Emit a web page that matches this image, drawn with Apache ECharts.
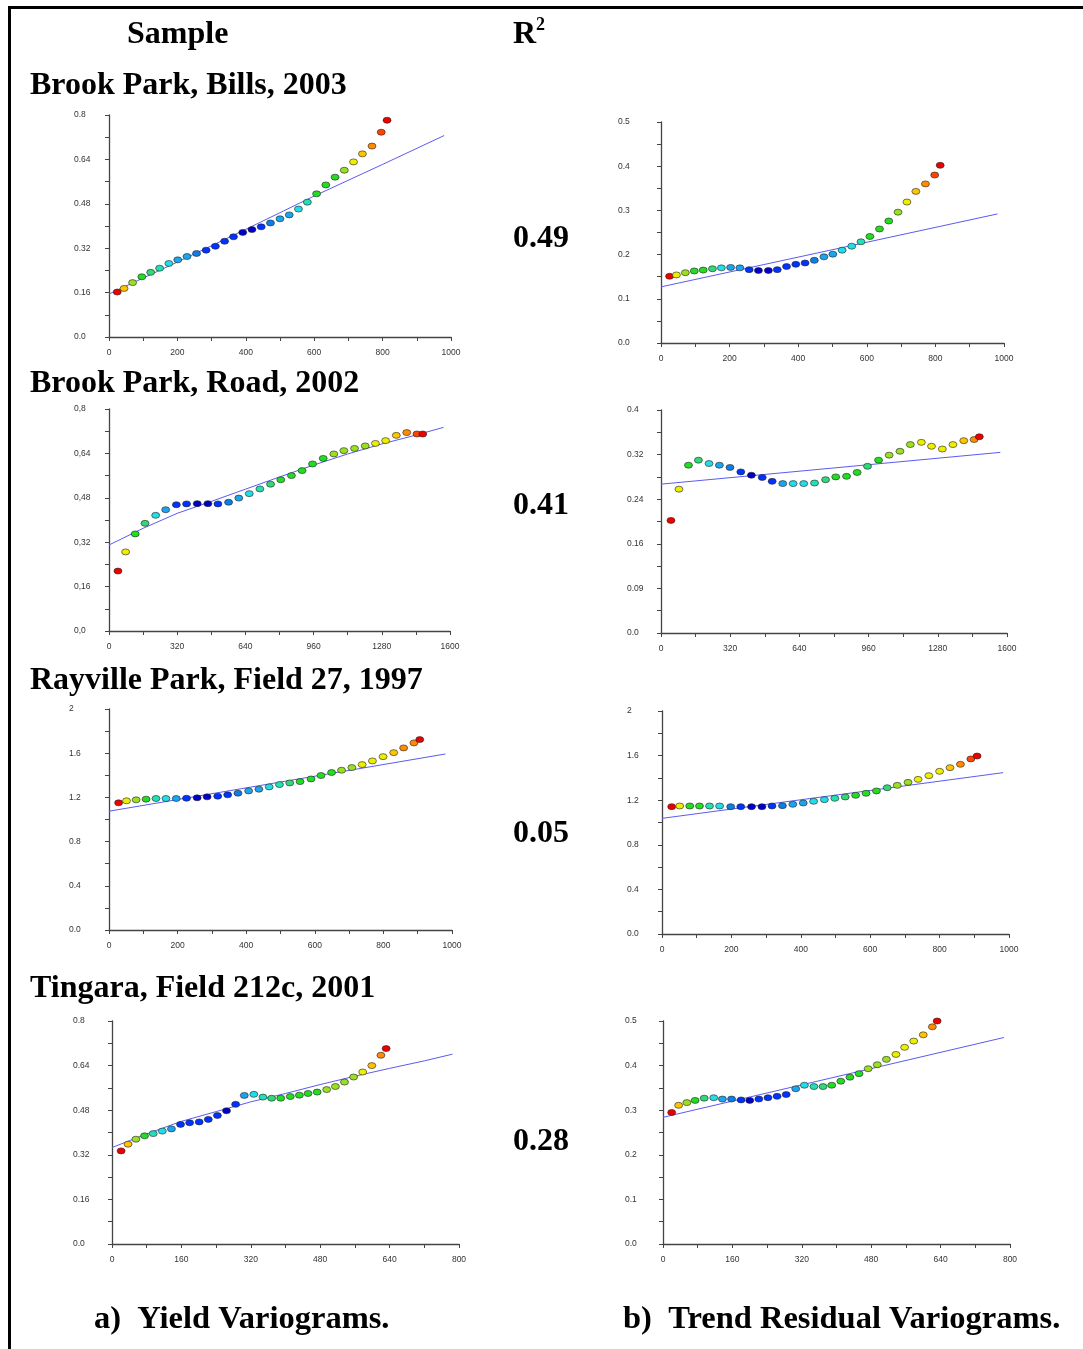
<!DOCTYPE html>
<html>
<head>
<meta charset="utf-8">
<title>Yield and trend residual variograms</title>
<script src="https://cdn.jsdelivr.net/npm/echarts@6/dist/echarts.min.js"></script>
<style>
  html, body { margin: 0; padding: 0; background: #fff; }
  #chart { width: 1083px; height: 1349px; }
</style>
</head>
<body>
<div id="chart"></div>
<script>
// jet-like colour steps used for the points (0 = dark blue ... 13 = red)
const PALETTE = ['#0000c8', '#0033ff', '#0a7fe8', '#1aa5ee', '#22dde8', '#22e0b4', '#30d878',
  '#22dd22', '#9ae020', '#eeee00', '#ffc400', '#ff8c00', '#ff4400', '#ee0000'];

// Brook Park, Bills, 2003
const lagBillsYield = [24, 44, 69, 96, 122, 148, 175, 201, 228, 256, 284, 311, 338, 364, 391, 418, 445, 472, 500, 527, 554, 580, 607, 634, 661, 688, 715, 741, 769, 796, 813];
const gamBillsYield = [0.162, 0.175, 0.196, 0.217, 0.233, 0.248, 0.265, 0.278, 0.290, 0.301, 0.313, 0.327, 0.345, 0.361, 0.377, 0.387, 0.397, 0.411, 0.426, 0.440, 0.461, 0.486, 0.516, 0.548, 0.576, 0.601, 0.631, 0.660, 0.688, 0.738, 0.781];
const lvlBillsYield = [13, 10, 8, 7, 6, 5, 4, 3, 3, 2, 1, 1, 1, 1, 0, 0, 1, 2, 3, 3, 4, 5, 7, 7, 7, 8, 9, 10, 11, 12, 13];
const fitBillsYield = [[0, 0.155], [200, 0.27], [400, 0.388], [600, 0.508], [800, 0.622], [980, 0.726]];

const lagBillsResid = [25, 45, 71, 97, 123, 150, 176, 203, 230, 257, 284, 313, 339, 366, 393, 420, 447, 475, 501, 528, 556, 583, 609, 637, 664, 691, 717, 743, 771, 798, 814];
const gamBillsResid = [0.151, 0.154, 0.159, 0.163, 0.165, 0.168, 0.170, 0.171, 0.170, 0.166, 0.164, 0.164, 0.166, 0.173, 0.178, 0.181, 0.187, 0.195, 0.201, 0.210, 0.219, 0.229, 0.241, 0.258, 0.276, 0.296, 0.319, 0.343, 0.360, 0.380, 0.402];
const lvlBillsResid = [13, 9, 8, 7, 7, 6, 4, 3, 3, 1, 0, 0, 1, 1, 1, 1, 2, 3, 3, 4, 4, 5, 7, 7, 7, 8, 9, 10, 11, 12, 13];
const fitBillsResid = [[0, 0.127], [981, 0.292]];

// Brook Park, Road, 2002
const lagRoadYield = [42, 78, 123, 169, 219, 266, 316, 364, 414, 464, 511, 561, 609, 658, 708, 758, 806, 856, 906, 955, 1005, 1055, 1102, 1152, 1202, 1250, 1298, 1348, 1397, 1445, 1472];
const gamRoadYield = [0.216, 0.285, 0.350, 0.388, 0.417, 0.437, 0.455, 0.458, 0.459, 0.459, 0.458, 0.464, 0.479, 0.495, 0.512, 0.529, 0.545, 0.560, 0.578, 0.602, 0.622, 0.638, 0.650, 0.658, 0.667, 0.676, 0.686, 0.705, 0.715, 0.710, 0.710];
const lvlRoadYield = [13, 9, 7, 6, 4, 3, 1, 1, 0, 0, 1, 2, 3, 4, 5, 6, 7, 7, 7, 7, 7, 8, 8, 8, 8, 9, 9, 10, 11, 12, 13];
const fitRoadYield = [[0, 0.31], [160, 0.37], [320, 0.424], [480, 0.467], [640, 0.511], [800, 0.555], [960, 0.598], [1120, 0.638], [1280, 0.674], [1440, 0.706], [1570, 0.734]];

const lagRoadResid = [46, 83, 127, 173, 222, 270, 319, 369, 418, 468, 514, 563, 611, 660, 710, 761, 808, 858, 907, 955, 1006, 1055, 1105, 1153, 1204, 1251, 1301, 1350, 1400, 1448, 1472];
const gamRoadResid = [0.202, 0.258, 0.301, 0.310, 0.304, 0.301, 0.297, 0.289, 0.283, 0.279, 0.272, 0.268, 0.268, 0.268, 0.269, 0.275, 0.280, 0.281, 0.288, 0.299, 0.310, 0.319, 0.326, 0.338, 0.342, 0.335, 0.330, 0.338, 0.345, 0.347, 0.352];
const lvlRoadResid = [13, 9, 7, 6, 4, 3, 2, 1, 0, 1, 1, 3, 4, 4, 5, 6, 7, 7, 7, 6, 7, 8, 8, 8, 9, 9, 9, 9, 10, 11, 13];
const fitRoadResid = [[0, 0.267], [1569, 0.324]];

// Rayville Park, Field 27, 1997
const lagRayYield = [28, 51, 79, 108, 137, 166, 196, 226, 257, 286, 317, 346, 376, 407, 437, 467, 497, 527, 557, 589, 618, 649, 678, 708, 738, 768, 799, 830, 859, 889, 906];
const gamRayYield = [1.151, 1.169, 1.178, 1.184, 1.190, 1.190, 1.190, 1.193, 1.196, 1.205, 1.211, 1.223, 1.238, 1.259, 1.274, 1.295, 1.316, 1.331, 1.343, 1.367, 1.398, 1.425, 1.446, 1.470, 1.497, 1.530, 1.569, 1.605, 1.648, 1.693, 1.723];
const lvlRayYield = [13, 9, 8, 7, 5, 4, 3, 1, 0, 0, 1, 1, 2, 3, 3, 4, 5, 6, 7, 7, 7, 7, 8, 8, 9, 9, 9, 10, 11, 11, 13];
const fitRayYield = [[0, 1.075], [981, 1.593]];

const lagRayResid = [28, 51, 80, 108, 137, 166, 198, 227, 258, 288, 317, 347, 377, 407, 437, 468, 498, 528, 558, 588, 618, 649, 678, 709, 738, 769, 800, 830, 860, 890, 908];
const gamRayResid = [1.142, 1.148, 1.148, 1.148, 1.148, 1.148, 1.142, 1.142, 1.142, 1.142, 1.148, 1.151, 1.163, 1.175, 1.190, 1.205, 1.217, 1.229, 1.244, 1.262, 1.283, 1.312, 1.333, 1.360, 1.387, 1.420, 1.459, 1.492, 1.522, 1.570, 1.596];
const lvlRayResid = [13, 9, 7, 7, 5, 4, 2, 1, 0, 0, 1, 2, 3, 3, 4, 4, 5, 6, 7, 7, 7, 6, 8, 8, 9, 9, 9, 10, 11, 12, 13];
const fitRayResid = [[0, 1.037], [983, 1.447]];

// Tingara, Field 212c, 2001
const lagTinYield = [21, 37, 55, 75, 95, 116, 137, 158, 179, 201, 222, 243, 264, 285, 305, 327, 348, 368, 389, 411, 432, 452, 473, 495, 515, 536, 557, 578, 599, 620, 632];
const gamTinYield = [0.334, 0.358, 0.376, 0.388, 0.396, 0.405, 0.413, 0.429, 0.435, 0.438, 0.447, 0.461, 0.478, 0.501, 0.533, 0.537, 0.527, 0.523, 0.523, 0.529, 0.534, 0.540, 0.545, 0.554, 0.565, 0.581, 0.599, 0.617, 0.640, 0.677, 0.701];
const lvlTinYield = [13, 10, 8, 7, 5, 4, 3, 1, 1, 1, 1, 1, 0, 1, 3, 4, 5, 6, 7, 7, 7, 7, 7, 8, 8, 8, 8, 9, 10, 11, 13];
const fitTinYield = [[0, 0.346], [80, 0.395], [160, 0.44], [240, 0.475], [320, 0.51], [400, 0.54], [480, 0.572], [560, 0.602], [640, 0.63], [720, 0.657], [785, 0.681]];

const lagTinResid = [20, 36, 55, 74, 95, 117, 137, 158, 180, 200, 221, 242, 263, 284, 306, 326, 348, 369, 389, 410, 431, 452, 473, 494, 515, 537, 557, 578, 600, 621, 632];
const gamTinResid = [0.295, 0.311, 0.317, 0.322, 0.327, 0.328, 0.325, 0.325, 0.323, 0.322, 0.325, 0.328, 0.331, 0.335, 0.348, 0.356, 0.353, 0.353, 0.356, 0.365, 0.374, 0.382, 0.393, 0.402, 0.414, 0.425, 0.441, 0.455, 0.469, 0.487, 0.500];
const lvlTinResid = [13, 10, 8, 7, 6, 4, 3, 2, 1, 0, 1, 1, 1, 1, 3, 4, 5, 6, 7, 7, 7, 7, 8, 8, 8, 9, 9, 9, 10, 11, 13];
const fitTinResid = [[0, 0.284], [786, 0.463]];

// tick labels
const xTicks1000 = ['0', '200', '400', '600', '800', '1000'];
const xTicks1600 = ['0', '320', '640', '960', '1280', '1600'];
const xTicks800 = ['0', '160', '320', '480', '640', '800'];
const yTicks08 = ['0.0', '0.16', '0.32', '0.48', '0.64', '0.8'];
const yTicks08comma = ['0,0', '0,16', '0,32', '0,48', '0,64', '0,8'];
const yTicks05 = ['0.0', '0.1', '0.2', '0.3', '0.4', '0.5'];
const yTicks04 = ['0.0', '0.09', '0.16', '0.24', '0.32', '0.4'];
const yTicks2 = ['0.0', '0.4', '0.8', '1.2', '1.6', '2'];

const sampleNames = ['Brook Park, Bills, 2003', 'Brook Park, Road, 2002', 'Rayville Park, Field 27, 1997', 'Tingara, Field 212c, 2001'];
const rSquared = ['0.49', '0.41', '0.05', '0.28'];

const panels = [
  {lag: lagBillsYield, gam: gamBillsYield, lvl: lvlBillsYield, fit: fitBillsYield, xMax: 1000, xStep: 200, xTicks: xTicks1000, yMax: 0.8, yStep: 0.16, yTicks: yTicks08},
  {lag: lagBillsResid, gam: gamBillsResid, lvl: lvlBillsResid, fit: fitBillsResid, xMax: 1000, xStep: 200, xTicks: xTicks1000, yMax: 0.5, yStep: 0.1, yTicks: yTicks05},
  {lag: lagRoadYield, gam: gamRoadYield, lvl: lvlRoadYield, fit: fitRoadYield, xMax: 1600, xStep: 320, xTicks: xTicks1600, yMax: 0.8, yStep: 0.16, yTicks: yTicks08comma},
  {lag: lagRoadResid, gam: gamRoadResid, lvl: lvlRoadResid, fit: fitRoadResid, xMax: 1600, xStep: 320, xTicks: xTicks1600, yMax: 0.4, yStep: 0.08, yTicks: yTicks04},
  {lag: lagRayYield, gam: gamRayYield, lvl: lvlRayYield, fit: fitRayYield, xMax: 1000, xStep: 200, xTicks: xTicks1000, yMax: 2, yStep: 0.4, yTicks: yTicks2},
  {lag: lagRayResid, gam: gamRayResid, lvl: lvlRayResid, fit: fitRayResid, xMax: 1000, xStep: 200, xTicks: xTicks1000, yMax: 2, yStep: 0.4, yTicks: yTicks2},
  {lag: lagTinYield, gam: gamTinYield, lvl: lvlTinYield, fit: fitTinYield, xMax: 800, xStep: 160, xTicks: xTicks800, yMax: 0.8, yStep: 0.16, yTicks: yTicks08},
  {lag: lagTinResid, gam: gamTinResid, lvl: lvlTinResid, fit: fitTinResid, xMax: 800, xStep: 160, xTicks: xTicks800, yMax: 0.5, yStep: 0.1, yTicks: yTicks05}
];

// plot boxes in page pixels, and how far the y labels start left of the axis
const layout = [
  {left: 109, top: 115, width: 342, height: 222, gap: 35},
  {left: 661, top: 122, width: 343, height: 221, gap: 43},
  {left: 109, top: 409, width: 341, height: 222, gap: 35},
  {left: 661, top: 410, width: 346, height: 223, gap: 34},
  {left: 109, top: 709, width: 343, height: 221, gap: 40},
  {left: 662, top: 711, width: 347, height: 223, gap: 35},
  {left: 112, top: 1021, width: 347, height: 223, gap: 39},
  {left: 663, top: 1021, width: 347, height: 223, gap: 38}
];

const AXIS_COLOR = '#444';
const LABEL_FONT = {fontFamily: 'Liberation Sans', fontSize: 8.5, color: '#333'};
const SERIF = 'Liberation Serif';

const grids = [], xAxes = [], yAxes = [], series = [];
panels.forEach((p, i) => {
  const box = layout[i];
  grids.push({left: box.left, top: box.top, width: box.width, height: box.height, containLabel: false});
  const axisCommon = {
    axisLine: {show: true, lineStyle: {color: AXIS_COLOR, width: 1.3}},
    axisTick: {show: true, length: 4, lineStyle: {color: AXIS_COLOR, width: 1}},
    minorTick: {show: true, splitNumber: 2, length: 4, lineStyle: {color: AXIS_COLOR, width: 1}},
    splitLine: {show: false},
    minorSplitLine: {show: false}
  };
  xAxes.push(Object.assign({
    type: 'value', gridIndex: i, min: 0, max: p.xMax, interval: p.xStep,
    axisLabel: Object.assign({margin: 11, formatter: v => p.xTicks[Math.round(v / p.xStep)]}, LABEL_FONT)
  }, axisCommon));
  yAxes.push(Object.assign({
    type: 'value', gridIndex: i, min: 0, max: p.yMax, interval: p.yStep,
    axisLabel: Object.assign({margin: box.gap, align: 'left', padding: [6, 0, 0, 0],
      formatter: v => p.yTicks[Math.round(v / p.yStep)]}, LABEL_FONT)
  }, axisCommon));
  series.push({
    type: 'line', xAxisIndex: i, yAxisIndex: i, data: p.fit, showSymbol: false, silent: true,
    lineStyle: {color: '#5b5bf0', width: 1}, z: 2
  });
  series.push({
    type: 'scatter', xAxisIndex: i, yAxisIndex: i,
    data: p.lag.map((x, k) => [x, p.gam[k], p.lvl[k]]),
    symbol: 'circle', symbolSize: [8, 6],
    itemStyle: {color: d => PALETTE[d.value[2]], borderColor: '#222', borderWidth: 0.6, opacity: 1},
    z: 3
  });
});

const titleStyle = (text, x, y, size) => ({
  type: 'text', left: x, top: y,
  style: {text: text, font: 'bold ' + (size || 32) + 'px "' + SERIF + '"', fill: '#000'}
});

const graphic = [
  {type: 'rect', shape: {x: 8, y: 6, width: 1075, height: 3}, style: {fill: '#000'}},
  {type: 'rect', shape: {x: 8, y: 6, width: 3, height: 1343}, style: {fill: '#000'}},
  titleStyle('Sample', 127, 19),
  titleStyle('R', 513, 19),
  titleStyle('2', 536, 16, 18),
  titleStyle('a)  Yield Variograms.', 94, 1303, 32.5),
  titleStyle('b)  Trend Residual Variograms.', 623, 1303, 32.5)
];
const nameTops = [70, 368, 665, 973];
const rTops = [223, 490, 818, 1126];
sampleNames.forEach((n, i) => graphic.push(titleStyle(n, 30, nameTops[i])));
rSquared.forEach((r, i) => graphic.push(titleStyle(r, 513, rTops[i])));

const chart = echarts.init(document.getElementById('chart'), null, {renderer: 'canvas'});
chart.setOption({
  animation: false,
  backgroundColor: '#fff',
  grid: grids,
  xAxis: xAxes,
  yAxis: yAxes,
  series: series,
  graphic: graphic
});
</script>
</body>
</html>
